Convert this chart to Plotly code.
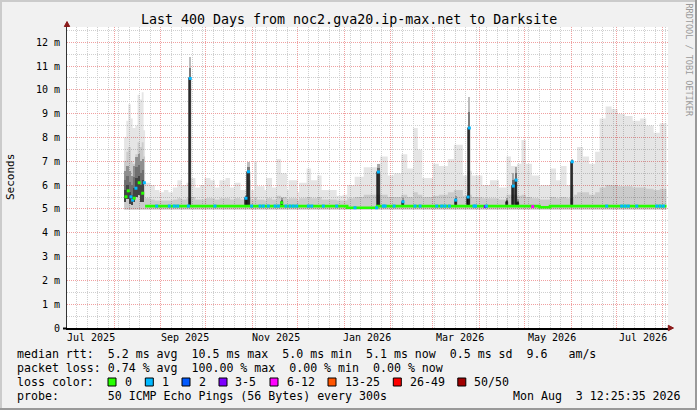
import plotly.graph_objects as go

# ---------------- data (values in ms) ----------------
TITLE = "Last 400 Days from noc2.gva20.ip-max.net to Darksite"

# step segments of the smoke envelope / median line (segment start dates)
seg_start = [
    "2025-08-07 12:00", "2025-08-09 00:00", "2025-08-10 06:00", "2025-08-12 00:00", "2025-08-13 06:00",
    "2025-08-15 00:00", "2025-08-16 12:00", "2025-08-18 00:00", "2025-08-19 06:00", "2025-08-20 12:00",
    "2025-08-21 12:00", "2025-08-25", "2025-08-28", "2025-08-31", "2025-09-03",
    "2025-09-06", "2025-09-09", "2025-09-12", "2025-09-15", "2025-09-18",
    "2025-09-21", "2025-09-24", "2025-09-27", "2025-09-30", "2025-10-04",
    "2025-10-07", "2025-10-10", "2025-10-14", "2025-10-17", "2025-10-20",
    "2025-10-24", "2025-10-28", "2025-10-31", "2025-11-02", "2025-11-04",
    "2025-11-09", "2025-11-10", "2025-11-14", "2025-11-17", "2025-11-20",
    "2025-11-24", "2025-11-25", "2025-12-01", "2025-12-02", "2025-12-07",
    "2025-12-10", "2025-12-14", "2025-12-17", "2025-12-27", "2025-12-31",
    "2026-01-03", "2026-01-08", "2026-01-14", "2026-01-23", "2026-01-25",
    "2026-01-30", "2026-02-03", "2026-02-08", "2026-02-12", "2026-02-16",
    "2026-02-19", "2026-02-22", "2026-03-01", "2026-03-05", "2026-03-11",
    "2026-03-15", "2026-03-21", "2026-03-24", "2026-03-27", "2026-04-03",
    "2026-04-08", "2026-04-14", "2026-04-19", "2026-04-22", "2026-04-26",
    "2026-04-29", "2026-05-02", "2026-05-06", "2026-05-11", "2026-05-18",
    "2026-05-22", "2026-05-25", "2026-05-29", "2026-06-03", "2026-06-05",
    "2026-06-09", "2026-06-13", "2026-06-17", "2026-06-20", "2026-06-24",
    "2026-06-28", "2026-07-02", "2026-07-07", "2026-07-12", "2026-07-17",
    "2026-07-21", "2026-07-26", "2026-07-30",
]
smoke_max = [
    8.0, 8.7, 9.4, 8.8, 8.4, 8.5, 9.8, 9.6, 9.9, 8.3,
    6.1, 6.0, 5.8, 5.7, 5.8,
    5.7, 5.9, 6.2, 6.0, 6.1,
    6.3, 5.9, 6.0, 6.3, 6.2,
    5.9, 6.2, 6.3, 5.9, 6.1,
    5.8, 6.2, 5.8, 7.0, 5.95,
    5.8, 6.3, 5.9, 7.1, 6.5,
    5.8, 6.2, 5.7, 6.1, 6.7,
    6.2, 6.4, 5.8, 5.55, 5.6,
    6.0, 6.35, 6.75, 6.9, 7.2,
    6.4, 6.5, 7.3, 6.7, 8.4,
    7.5, 6.3, 6.9, 6.8, 7.1,
    7.7, 6.4, 6.6, 6.4, 6.0,
    6.2, 5.9, 7.2, 6.8, 6.9,
    7.9, 6.9, 6.4, 6.0, 6.7,
    6.2, 6.8, 6.0, 7.0, 7.6,
    7.2, 6.9, 7.4, 8.8, 9.3,
    9.2, 9.0, 8.9, 8.7, 8.8,
    8.5, 8.2, 8.6,
]
smoke_mid = [
    7.0, 7.4, 7.6, 7.0, 6.9, 7.3, 7.8, 7.6, 7.8, 7.2,
    5.45, 5.4, 5.35, 5.35, 5.35,
    5.35, 5.4, 5.45, 5.4, 5.45,
    5.5, 5.4, 5.4, 5.45, 5.45,
    5.4, 5.45, 5.45, 5.4, 5.45,
    5.4, 5.5, 5.4, 5.5, 5.4,
    5.35, 5.45, 5.4, 5.55, 5.5,
    5.4, 5.45, 5.35, 5.45, 5.5,
    5.45, 5.5, 5.4, 5.35, 5.35,
    5.45, 5.5, 5.6, 5.6, 5.6,
    5.5, 5.5, 5.6, 5.5, 5.7,
    5.6, 5.5, 5.55, 5.6, 5.7,
    5.8, 5.55, 5.6, 5.5, 5.45,
    5.45, 5.4, 5.6, 5.6, 5.55,
    5.6, 5.5, 5.45, 5.4, 5.5,
    5.45, 5.5, 5.45, 5.6, 5.7,
    5.7, 5.6, 5.7, 5.9, 6.0,
    6.0, 5.95, 5.95, 5.9, 5.9,
    5.85, 5.8, 5.85,
]
median_ms = [
    None, None, None, None, None, None, None, None, None, None,
    5.12, 5.12, 5.12, 5.12, 5.12,
    5.12, 5.12, 5.12, 5.12, 5.12,
    5.12, 5.12, 5.12, 5.12, 5.12,
    5.12, 5.12, 5.12, 5.12, 5.12,
    5.12, 5.12, 5.12, 5.12, 5.12,
    5.12, 5.12, 5.12, 5.12, 5.12,
    5.12, 5.12, 5.12, 5.12, 5.12,
    5.12, 5.12, 5.12, 5.12, 5.12,
    5.05, 5.05, 5.05, 5.12, 5.12,
    5.12, 5.12, 5.12, 5.12, 5.12,
    5.12, 5.12, 5.12, 5.12, 5.12,
    5.12, 5.12, 5.12, 5.12, 5.12,
    5.12, 5.12, 5.12, 5.12, 5.12,
    5.12, 5.12, 5.12, 5.07, 5.12,
    5.12, 5.12, 5.12, 5.12, 5.12,
    5.12, 5.12, 5.12, 5.12, 5.12,
    5.12, 5.12, 5.12, 5.12, 5.12,
    5.12, 5.12, 5.12,
]
SEG_END = "2026-08-03 12:25"
SMOKE_FLOOR = 4.97

# dense smoke columns of the unstable start period
early_date = [
    "2025-08-08 06:00", "2025-08-09 18:00", "2025-08-11 06:00", "2025-08-12 18:00", "2025-08-14 06:00",
    "2025-08-15 18:00", "2025-08-17 06:00", "2025-08-18 18:00", "2025-08-20 06:00",
]
early_lo = [5.30, 5.40, 5.20, 5.15, 5.30, 5.50, 5.60, 5.30, 5.30]
early_top = [5.80, 6.00, 5.70, 5.60, 5.90, 6.30, 6.40, 6.00, 6.20]
early_fade = [6.60, 6.80, 6.60, 6.40, 6.80, 7.20, 7.30, 7.00, 7.10]

# dense smoke columns of latency spikes
spike_date = [
    "2025-09-20 12:00", "2025-10-27 16:00", "2025-10-29 07:00", "2025-11-20 10:00", "2026-01-23 19:00",
    "2026-02-09 03:00", "2026-03-16 05:00", "2026-03-24 12:00", "2026-03-25 07:00", "2026-04-19 05:00",
    "2026-04-23 14:00", "2026-04-25 10:00", "2026-04-26 21:00", "2026-06-01 19:00",
]
spike_lo = [5.15, 5.15, 5.15, 5.15, 5.10, 5.15, 5.15, 5.15, 5.15, 5.15, 5.15, 5.15, 5.15, 5.15]
spike_top = [10.48, 5.45, 6.56, 5.30, 6.55, 5.30, 5.37, 5.50, 8.40, 5.30, 5.96, 6.21, 5.26, 6.98]
spike_fade = [11.38, 5.60, 6.98, 5.45, 6.90, 5.45, 5.55, 5.70, 9.70, 5.45, 6.50, 6.77, 5.40, 7.10]

# median samples coloured by packet loss bucket
loss_date = [
    "2025-08-08 19:00", "2025-08-10 07:00", "2025-08-12 03:00", "2025-08-13 05:00", "2025-08-14 07:00",
    "2025-08-15 10:00", "2025-08-17 14:00", "2025-08-19 22:00", "2025-08-21 00:00",
    "2025-08-29 05:00", "2025-09-06 14:00", "2025-09-09 22:00", "2025-09-12 05:00", "2025-09-19 07:00",
    "2025-09-20 12:00", "2025-10-07 00:00", "2025-10-27 16:00", "2025-10-29 07:00", "2025-10-31 10:00",
    "2025-11-06 00:00", "2025-11-08 05:00", "2025-11-11 12:00", "2025-11-16 00:00", "2025-11-18 05:00",
    "2025-11-20 10:00", "2025-11-23 07:00", "2025-11-25 22:00", "2025-11-28 03:00", "2025-11-30 10:00",
    "2025-12-08 03:00", "2025-12-10 10:00", "2025-12-18 03:00", "2025-12-27 00:00", "2026-01-08 05:00",
    "2026-01-22 14:00", "2026-01-23 19:00", "2026-01-27 00:00", "2026-01-28 05:00", "2026-02-03 05:00",
    "2026-02-09 03:00", "2026-02-17 03:00", "2026-02-20 12:00", "2026-03-03 14:00", "2026-03-06 22:00",
    "2026-03-09 03:00", "2026-03-12 00:00", "2026-03-16 05:00", "2026-03-24 12:00", "2026-03-25 07:00",
    "2026-03-28 10:00", "2026-03-29 10:00", "2026-04-04 22:00", "2026-04-05 17:00", "2026-04-23 14:00",
    "2026-04-25 10:00", "2026-05-06 12:00", "2026-06-01 19:00", "2026-06-24 17:00", "2026-07-04 17:00",
    "2026-07-06 22:00", "2026-07-09 03:00", "2026-07-14 17:00", "2026-07-28 00:00", "2026-07-30 05:00",
    "2026-08-01 10:00",
]
loss_ms = [
    5.51, 5.76, 5.51, 5.37, 5.45,
    5.87, 6.10, 5.66, 6.10,
    5.12, 5.12, 5.12, 5.12, 5.12,
    10.48, 5.12, 5.45, 6.56, 5.12,
    5.12, 5.12, 5.12, 5.12, 5.12,
    5.26, 5.12, 5.12, 5.12, 5.12,
    5.12, 5.12, 5.12, 5.12, 5.05,
    5.05, 6.55, 5.12, 5.12, 5.12,
    5.30, 5.12, 5.12, 5.12, 5.12,
    5.12, 5.12, 5.37, 5.50, 8.40,
    5.12, 5.12, 5.10, 5.12, 5.96,
    6.21, 5.10, 6.98, 5.12, 5.12,
    5.12, 5.12, 5.12, 5.12, 5.12,
    5.12,
]
loss_bucket = [
    0, 0, 1, 1, 0,
    1, 0, 0, 1,
    1, 1, 1, 1, 1,
    1, 1, 1, 1, 1,
    1, 1, 1, 1, 1,
    0, 1, 1, 1, 1,
    1, 1, 1, 1, 1,
    1, 1, 1, 1, 1,
    1, 1, 1, 1, 1,
    1, 1, 1, 1, 1,
    1, 1, 3, 1, 1,
    1, 4, 1, 1, 1,
    1, 1, 1, 1, 1,
    1,
]

loss_labels = ["0", "1", "2", "3-5", "6-12", "13-25", "26-49", "50/50"]

x_label_dates = ["2025-07-16 19:00", "2025-09-16 20:00", "2025-11-16 18:00", "2026-01-16 12:00",
                 "2026-03-19 07:00", "2026-05-19 14:00", "2026-07-19 02:00"]
x_label_text = ["Jul 2025", "Sep 2025", "Nov 2025", "Jan 2026", "Mar 2026", "May 2026", "Jul 2026"]
y_tick_vals = [0, 1, 2, 3, 4, 5, 6, 7, 8, 9, 10, 11, 12]
y_tick_text = ["0", "1 m", "2 m", "3 m", "4 m", "5 m", "6 m", "7 m", "8 m", "9 m", "10 m", "11 m", "12 m"]

legend_rtt = "median rtt:  5.2 ms avg  10.5 ms max  5.0 ms min  5.1 ms now  0.5 ms sd  9.6   am/s"
legend_loss = "packet loss: 0.74 % avg  100.00 % max  0.00 % min  0.00 % now"
legend_color = "loss color:"
legend_probe = "probe:       50 ICMP Echo Pings (56 Bytes) every 300s"
legend_date = "Mon Aug  3 12:25:35 2026"
watermark = "RRDTOOL / TOBI OETIKER"

# ---------------- styles ----------------
LOSS_COLORS = ["#26ff00", "#00b8ff", "#0059ff", "#7e00ff", "#ff00ff", "#ff5500", "#ff0000", "#a10000"]
MONO = "DejaVu Sans Mono"
RED_GRID = "#f0a0a0"
GRAY_GRID = "#cfcfcf"
BAR_MS = 1.5 * 86400000
W, H = 697, 410
L, R, T, B = 67, 668, 27, 328


def px(x):
    return (x - L) / (R - L)


def py(y):
    return (B - y) / (B - T)


def nb(s):
    return s.replace(" ", "\u00a0")


def dense_columns(fig, dates, lo, top, fade, dark, mid, light, outline):
    half = [(a + b) / 2 for a, b in zip(top, fade)]
    fig.add_trace(go.Bar(x=dates, base=half, y=[f - h for f, h in zip(fade, half)], width=BAR_MS,
                         marker=dict(color=light, line=dict(width=0)), hoverinfo="skip"))
    fig.add_trace(go.Bar(x=dates, base=top, y=[h - d for h, d in zip(half, top)], width=BAR_MS,
                         marker=dict(color=mid, line=dict(width=0)), hoverinfo="skip"))
    fig.add_trace(go.Bar(x=dates, base=lo, y=[d - l for d, l in zip(top, lo)], width=BAR_MS,
                         marker=dict(color=dark, line=outline), hoverinfo="skip"))


fig = go.Figure()
xs = seg_start + [SEG_END]

# smoke: light envelope
fig.add_trace(go.Scatter(x=[seg_start[0], SEG_END], y=[SMOKE_FLOOR, SMOKE_FLOOR], mode="lines",
                         line=dict(width=0), hoverinfo="skip"))
fig.add_trace(go.Scatter(x=xs, y=smoke_max + [smoke_max[-1]], mode="lines",
                         line=dict(width=0, shape="hv"), fill="tonexty",
                         fillcolor="rgba(0,0,0,0.10)", hoverinfo="skip"))
# smoke: denser part
fig.add_trace(go.Scatter(x=[seg_start[0], SEG_END], y=[SMOKE_FLOOR, SMOKE_FLOOR], mode="lines",
                         line=dict(width=0), hoverinfo="skip"))
fig.add_trace(go.Scatter(x=xs, y=smoke_mid + [smoke_mid[-1]], mode="lines",
                         line=dict(width=0, shape="hv"), fill="tonexty",
                         fillcolor="rgba(0,0,0,0.11)", hoverinfo="skip"))

dense_columns(fig, early_date, early_lo, early_top, early_fade,
              "#555555", "#8c8c8c", "#b4b4b4", dict(width=0))
dense_columns(fig, spike_date, spike_lo, spike_top, spike_fade,
              "#303030", "#7a7a7a", "#bcbcbc", dict(width=0.6, color="#000000"))

# median line (0 % loss)
fig.add_trace(go.Scatter(x=xs, y=median_ms + [median_ms[-1]], mode="lines",
                         line=dict(color=LOSS_COLORS[0], width=2.6, shape="hv"),
                         connectgaps=False, hoverinfo="skip"))
# median samples with their loss colour
fig.add_trace(go.Scatter(x=loss_date, y=loss_ms, mode="markers",
                         marker=dict(symbol="square", size=3,
                                     color=[LOSS_COLORS[b] for b in loss_bucket], line=dict(width=0)),
                         hoverinfo="skip"))

fig.update_layout(
    width=W, height=H, autosize=False,
    margin=dict(l=L, r=W - R, t=T, b=H - B, pad=0),
    paper_bgcolor="#f1f1f1", plot_bgcolor="#ffffff",
    showlegend=False, barmode="overlay", bargap=0,
    font=dict(family=MONO, size=10, color="#000000"),
)
fig.update_xaxes(
    type="date", range=["2025-06-30 12:40", "2026-08-04 12:40"],
    showgrid=True, gridcolor=RED_GRID, griddash="1px,1px", gridwidth=1,
    dtick="M1", tick0="2025-08-01", showticklabels=False, ticks="",
    showline=True, linecolor="#000000", linewidth=2, zeroline=False,
    minor=dict(dtick=7 * 86400000, tick0="2025-08-04", showgrid=True,
               gridcolor=GRAY_GRID, griddash="1px,1px", gridwidth=1),
)
fig.update_yaxes(
    range=[0, 12.64], tickmode="array", tickvals=y_tick_vals, ticktext=y_tick_text,
    showgrid=True, gridcolor=RED_GRID, griddash="1px,1px", gridwidth=1,
    minor=dict(dtick=0.5, tick0=0, showgrid=True, gridcolor=GRAY_GRID, griddash="1px,1px", gridwidth=1),
    showline=True, linecolor="#333333", linewidth=1, zeroline=False,
    ticks="outside", ticklen=4, tickcolor="rgba(0,0,0,0)",
    tickfont=dict(family=MONO, size=10, color="#000000"),
)

ann = []
ann.append(dict(text=nb(TITLE), x=px(348.5), y=py(19), xref="paper", yref="paper",
                xanchor="center", yanchor="middle", showarrow=False,
                font=dict(family=MONO, size=13.3, color="#000000")))
ann.append(dict(text="Seconds", x=px(10), y=py(177), xref="paper", yref="paper", textangle=-90,
                xanchor="center", yanchor="middle", showarrow=False,
                font=dict(family=MONO, size=11, color="#000000")))
ann.append(dict(text=nb(watermark), x=px(688.5), y=py(60), xref="paper", yref="paper", textangle=90,
                xanchor="center", yanchor="middle", showarrow=False,
                font=dict(family=MONO, size=8.5, color="#9a9a9a")))
for d, t in zip(x_label_dates, x_label_text):
    ann.append(dict(text=nb(t), x=d, y=py(337.5), xref="x", yref="paper", xanchor="center",
                    yanchor="middle", showarrow=False, font=dict(family=MONO, size=10, color="#000000")))

ROW_Y = [354, 368, 382, 396]
for row, y in zip([legend_rtt, legend_loss, legend_color, legend_probe], ROW_Y):
    ann.append(dict(text=nb(row), x=px(14.5), y=py(y), xref="paper", yref="paper", xanchor="left",
                    yanchor="middle", showarrow=False, font=dict(family=MONO, size=11.6, color="#000000")))
ann.append(dict(text=nb(legend_date), x=px(682.5), y=py(ROW_Y[3]), xref="paper", yref="paper",
                xanchor="right", yanchor="middle", showarrow=False,
                font=dict(family=MONO, size=11.6, color="#000000")))

BOX_X = [108, 145.3, 182, 219, 270, 328, 393.3, 457.8]
shapes = []
for bx, lab, col in zip(BOX_X, loss_labels, LOSS_COLORS):
    shapes.append(dict(type="rect", xref="paper", yref="paper", x0=px(bx), x1=px(bx + 8),
                       y0=py(ROW_Y[2] + 4), y1=py(ROW_Y[2] - 4), fillcolor=col,
                       line=dict(color="#000000", width=1)))
    ann.append(dict(text=nb(lab), x=px(bx + 14.5), y=py(ROW_Y[2]), xref="paper", yref="paper",
                    xanchor="left", yanchor="middle", showarrow=False,
                    font=dict(family=MONO, size=11.6, color="#000000")))

# axis arrows
shapes.append(dict(type="path", xref="paper", yref="paper",
                   path=f"M {px(64.3)},{py(26.5)} L {px(67)},{py(21.5)} L {px(69.7)},{py(26.5)} Z",
                   fillcolor="#8b1a1a", line=dict(color="#8b1a1a", width=1)))
shapes.append(dict(type="path", xref="paper", yref="paper",
                   path=f"M {px(668.3)},{py(325.3)} L {px(673.5)},{py(328)} L {px(668.3)},{py(330.7)} Z",
                   fillcolor="#8b1a1a", line=dict(color="#8b1a1a", width=1)))
shapes.append(dict(type="line", xref="paper", yref="paper", x0=px(63), x1=px(67), y0=py(328.5), y1=py(328.5),
                   line=dict(color="#000000", width=2)))
# frame
shapes.append(dict(type="line", xref="paper", yref="paper", x0=px(0), x1=px(697), y0=py(1), y1=py(1),
                   line=dict(color="#cbcbcb", width=2)))
shapes.append(dict(type="line", xref="paper", yref="paper", x0=px(1), x1=px(1), y0=py(0), y1=py(410),
                   line=dict(color="#cbcbcb", width=2)))
shapes.append(dict(type="line", xref="paper", yref="paper", x0=px(0), x1=px(697), y0=py(409), y1=py(409),
                   line=dict(color="#999999", width=2)))
shapes.append(dict(type="line", xref="paper", yref="paper", x0=px(696), x1=px(696), y0=py(0), y1=py(410),
                   line=dict(color="#999999", width=2)))

fig.update_layout(annotations=ann, shapes=shapes)

fig.write_html("out.html", config={"displayModeBar": False},
               post_script="document.body.style.margin='0';document.body.style.overflow='hidden';")
